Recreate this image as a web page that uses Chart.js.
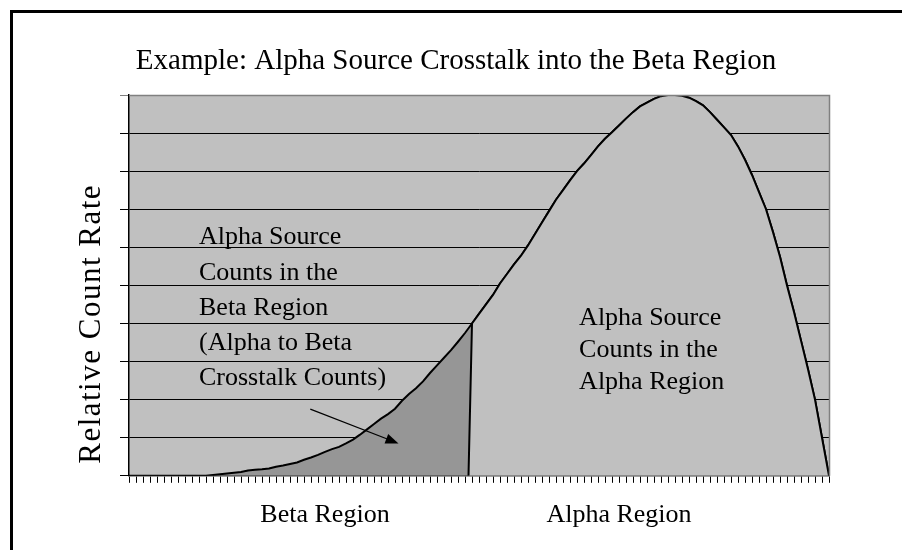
<html lang="en">
<head>
    <title>Alpha crosstalk</title>
    <style>
        body { margin: 0; background: #fff; overflow: hidden; }
        #wrap { position: absolute; left: 0; top: 0; width: 902px; height: 550px; }
    </style>
</head>
<body>
    <div id="wrap"><canvas id="crossChart" width="902" height="550"></canvas></div>

    <script src="https://cdn.jsdelivr.net/npm/chart.js"></script>
    <script>
        // channel index along the energy axis (0..100)
        const channels = [];
        for (let i = 0; i <= 100; i++) channels.push(i);

        // relative count rate of the alpha source
        const alphaCounts = [
            0, 0, 0, 0, 0, 0, 0, 0, 0, 0,
            0, 0, 0.02, 0.04, 0.06, 0.08, 0.1, 0.14, 0.16, 0.17,
            0.19, 0.24, 0.27, 0.31, 0.35, 0.42, 0.48, 0.55, 0.63, 0.7,
            0.76, 0.85, 0.95, 1.08, 1.22, 1.36, 1.5, 1.62, 1.76, 1.97,
            2.15, 2.3, 2.48, 2.7, 2.9, 3.1, 3.3, 3.52, 3.75, 4.0,
            4.25, 4.5, 4.75, 5.05, 5.3, 5.55, 5.78, 6.05, 6.35, 6.65,
            6.95, 7.25, 7.5, 7.76, 8.0, 8.2, 8.42, 8.65, 8.85, 9.02,
            9.2, 9.38, 9.55, 9.7, 9.8, 9.9, 9.97, 10.0, 10.0, 9.98,
            9.93, 9.84, 9.73, 9.55, 9.35, 9.15, 8.95, 8.65, 8.3, 7.9,
            7.45, 7.0, 6.4, 5.75, 5.0, 4.3, 3.55, 2.8, 2.0, 1.0,
            0
        ];

        // last channel of the beta region and where the cut meets the axis
        const betaEnd = 49;
        const betaCutBase = 48.5;

        const regionTicks = [28, 70];
        const regionLabels = ['Beta Region', 'Alpha Region'];

        const titleText = 'Example: Alpha Source Crosstalk into the Beta Region';
        const yTitle = 'Relative Count Rate';
        const betaNote = ['Alpha Source', 'Counts in the', 'Beta Region', '(Alpha to Beta', 'Crosstalk Counts)'];
        const alphaNote = ['Alpha Source', 'Counts in the', 'Alpha Region'];

        const serif = "'Liberation Serif', 'Times New Roman', serif";

        const alphaPoints = channels.map((c, i) => ({x: c, y: alphaCounts[i]}));
        // alpha region part: starts at the cut on the axis, then follows the curve
        const alphaRegionPoints = [{x: betaCutBase, y: 0}].concat(alphaPoints.slice(betaEnd));

        /**
         * Frame, plot background, titles and the text notes
         */
        const decor = {
            id: 'decor',
            beforeDraw(chart) {
                const ctx = chart.ctx;
                const a = chart.chartArea;
                ctx.save();
                ctx.strokeStyle = '#000';
                ctx.lineWidth = 3;
                ctx.strokeRect(11.5, 11.5, 1000, 1000);
                ctx.fillStyle = '#c0c0c0';
                ctx.fillRect(a.left, a.top, a.right - a.left, a.bottom - a.top);
                ctx.restore();
            },
            afterDatasetsDraw(chart) {
                const ctx = chart.ctx;
                const xs = chart.scales.x, ys = chart.scales.y;
                const a = chart.chartArea;
                ctx.save();
                // right and top edge of the plot
                ctx.strokeStyle = '#808080';
                ctx.lineWidth = 1.5;
                ctx.beginPath();
                ctx.moveTo(a.left, a.top + 0.5);
                ctx.lineTo(a.right + 0.5, a.top + 0.5);
                ctx.lineTo(a.right + 0.5, a.bottom);
                ctx.stroke();

                ctx.fillStyle = '#000';

                // chart title
                ctx.font = '29px ' + serif;
                ctx.textAlign = 'center';
                ctx.textBaseline = 'middle';
                ctx.fillText(titleText, (a.left + a.right) / 2 - 23, a.top - 34);

                ctx.textBaseline = 'alphabetic';
                ctx.textAlign = 'left';

                // y axis title
                ctx.save();
                ctx.font = '31px ' + serif;
                ctx.letterSpacing = '1.5px';
                ctx.translate(a.left - 29, a.bottom - 12);
                ctx.rotate(-Math.PI / 2);
                ctx.fillText(yTitle, 0, 0);
                ctx.restore();

                ctx.font = '26px ' + serif;
                let x = xs.getPixelForValue(10);
                let y = ys.getPixelForValue(6.08);
                betaNote.forEach((t, i) => ctx.fillText(t, x, y + i * 35.3));

                x = xs.getPixelForValue(64.3);
                y = ys.getPixelForValue(3.95);
                alphaNote.forEach((t, i) => ctx.fillText(t, x, y + i * 31.7));

                // arrow into the crosstalk area
                const x0 = xs.getPixelForValue(25.9), y0 = ys.getPixelForValue(1.75);
                const x1 = xs.getPixelForValue(38.5), y1 = ys.getPixelForValue(0.85);
                const ang = Math.atan2(y1 - y0, x1 - x0);
                ctx.strokeStyle = '#000';
                ctx.lineWidth = 1.2;
                ctx.beginPath();
                ctx.moveTo(x0, y0);
                ctx.lineTo(x1 - 10 * Math.cos(ang), y1 - 10 * Math.sin(ang));
                ctx.stroke();
                ctx.beginPath();
                ctx.moveTo(x1, y1);
                ctx.lineTo(x1 - 13 * Math.cos(ang) + 5 * Math.sin(ang), y1 - 13 * Math.sin(ang) - 5 * Math.cos(ang));
                ctx.lineTo(x1 - 13 * Math.cos(ang) - 5 * Math.sin(ang), y1 - 13 * Math.sin(ang) + 5 * Math.cos(ang));
                ctx.closePath();
                ctx.fill();
                ctx.restore();
            }
        };

        const chart = new Chart(document.getElementById('crossChart'), {
            type: 'line',
            data: {
                datasets: [{
                    label: 'Alpha region',
                    data: alphaRegionPoints,
                    fill: 'origin',
                    backgroundColor: '#c0c0c0',
                    borderColor: '#000',
                    borderWidth: 2,
                    pointRadius: 0,
                    tension: 0,
                    order: 0
                }, {
                    label: 'Alpha source (whole curve)',
                    data: alphaPoints,
                    fill: 'origin',
                    backgroundColor: '#969696',
                    borderColor: '#000',
                    borderWidth: 2,
                    pointRadius: 0,
                    tension: 0,
                    order: 1
                }]
            },
            options: {
                responsive: false,
                animation: false,
                layout: {padding: {left: 120, right: 73, top: 95, bottom: 2}},
                plugins: {
                    legend: {display: false},
                    tooltip: {enabled: false}
                },
                scales: {
                    x: {
                        type: 'linear',
                        min: 0,
                        max: 100,
                        grid: {drawOnChartArea: false, color: '#000', tickLength: 7},
                        border: {color: '#404040', width: 1.5},
                        ticks: {
                            stepSize: 1,
                            maxTicksLimit: 200,
                            autoSkip: false,
                            maxRotation: 0,
                            minRotation: 0,
                            padding: 17,
                            color: '#000',
                            font: {family: serif, size: 26},
                            callback: function (v) {
                                const k = regionTicks.indexOf(v);
                                return k >= 0 ? regionLabels[k] : '';
                            }
                        }
                    },
                    y: {
                        min: 0,
                        max: 10,
                        grid: {
                            color: (c) => c.tick && c.tick.value === 10 ? '#808080' : '#000',
                            tickLength: 9
                        },
                        border: {color: '#000', width: 1.5},
                        ticks: {stepSize: 1, display: false}
                    }
                }
            },
            plugins: [decor]
        });
    </script>
</body>
</html>
